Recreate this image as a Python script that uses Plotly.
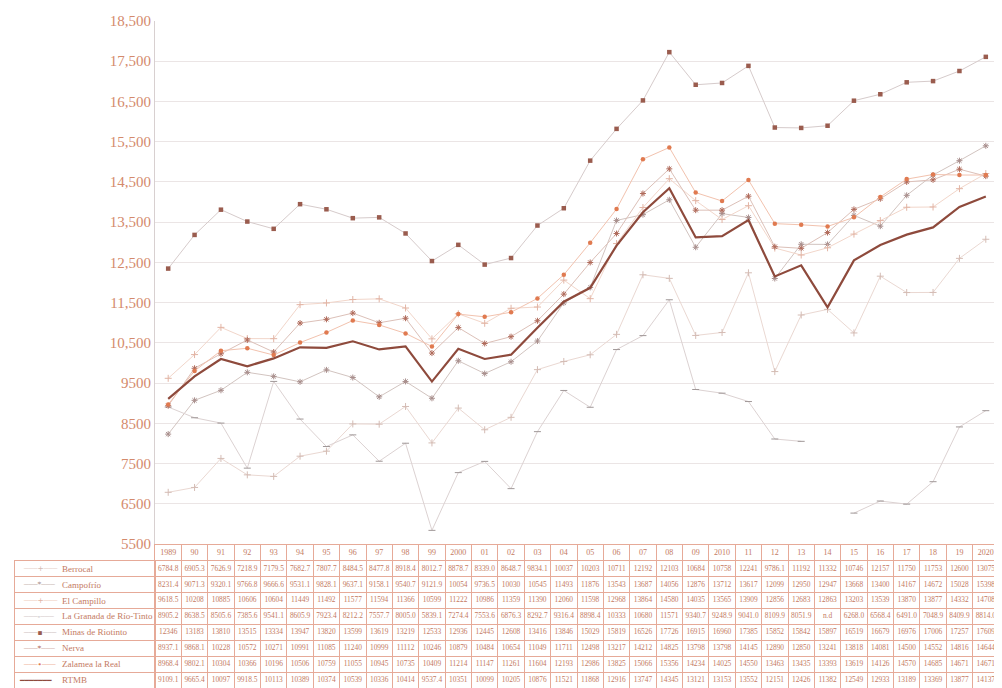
import plotly.graph_objects as go

years = ["1989", "90", "91", "92", "93", "94", "95", "96", "97", "98", "99",
         "2000", "01", "02", "03", "04", "05", "06", "07", "08", "09",
         "2010", "11", "12", "13", "14", "15", "16", "17", "18", "19", "2020"]

berrocal = [6784.8, 6905.3, 7626.9, 7218.9, 7179.5, 7682.7, 7807.7, 8484.5, 8477.8, 8918.4,
            8012.7, 8878.7, 8339.0, 8648.7, 9834.1, 10037, 10203, 10711, 12192, 12103,
            10684, 10758, 12241, 9786.1, 11192, 11332, 10746, 12157, 11750, 11753, 12600, 13075]
campofrio = [8231.4, 9071.3, 9320.1, 9766.8, 9666.6, 9531.1, 9828.1, 9637.1, 9158.1, 9540.7,
             9121.9, 10054, 9736.5, 10030, 10545, 11493, 11876, 13543, 13687, 14056,
             12876, 13712, 13617, 12099, 12950, 12947, 13668, 13400, 14167, 14672, 15028, 15398]
el_campillo = [9618.5, 10208, 10885, 10606, 10604, 11449, 11492, 11577, 11594, 11366,
               10599, 11222, 10986, 11359, 11390, 12060, 11598, 12968, 13864, 14580,
               14035, 13565, 13909, 12856, 12683, 12863, 13203, 13539, 13870, 13877, 14332, 14708]
la_granada = [8905.2, 8638.5, 8505.6, 7385.6, 9541.1, 8605.9, 7923.4, 8212.2, 7557.7, 8005.0,
              5839.1, 7274.4, 7553.6, 6876.3, 8292.7, 9316.4, 8898.4, 10333, 10680, 11571,
              9340.7, 9248.9, 9041.0, 8109.9, 8051.9, None, 6268.0, 6568.4, 6491.0, 7048.9, 8409.9, 8814.0]
minas = [12346, 13183, 13810, 13515, 13334, 13947, 13820, 13599, 13619, 13219,
         12533, 12936, 12445, 12608, 13416, 13846, 15029, 15819, 16526, 17726,
         16915, 16960, 17385, 15852, 15842, 15897, 16519, 16679, 16976, 17006, 17257, 17609]
nerva = [8937.1, 9868.1, 10228, 10572, 10271, 10991, 11085, 11240, 10999, 11112,
         10246, 10879, 10484, 10654, 11049, 11711, 12498, 13217, 14212, 14825,
         13798, 13798, 14145, 12890, 12850, 13241, 13818, 14081, 14500, 14552, 14816, 14644]
zalamea = [8968.4, 9802.1, 10304, 10366, 10196, 10506, 10759, 11055, 10945, 10735,
           10409, 11214, 11147, 11261, 11604, 12193, 12986, 13825, 15066, 15356,
           14234, 14025, 14550, 13463, 13435, 13393, 13619, 14126, 14570, 14685, 14671, 14671]
rtmb = [9109.1, 9665.4, 10097, 9918.5, 10113, 10389, 10374, 10539, 10336, 10414,
        9537.4, 10351, 10099, 10205, 10876, 11521, 11868, 12916, 13747, 14345,
        13121, 13153, 13552, 12151, 12426, 11382, 12549, 12933, 13189, 13369, 13877, 14137]

names = ["Berrocal", "Campofrío", "El Campillo", "La Granada de Río-Tinto",
         "Minas de Riotinto", "Nerva", "Zalamea la Real", "RTMB"]
series = [berrocal, campofrio, el_campillo, la_granada, minas, nerva, zalamea, rtmb]

y_ticks = [5500, 6500, 7500, 8500, 9500, 10500, 11500, 12500, 13500, 14500, 15500, 16500, 17500, 18500]
y_tick_text = ["5500", "6500", "7500", "8500", "9500", "10,500", "11,500", "12,500",
               "13,500", "14,500", "15,500", "16,500", "17,500", "18,500"]

# styles
line_colors = ["#ead8d2", "#d2c4c0", "#f2d6ca", "#dcd2d2", "#d6cbcb", "#dcc0b8", "#f2c2ae", "#8e4a3c"]
marker_colors = ["#d4bcb4", "#a88e8c", "#e2b4a4", "#a09898", "#9a5c4e", "#b06a5a", "#e07a50", "#8e4a3c"]
symbols = ["cross-thin", "asterisk-open", "cross-thin", "line-ew", "square", "asterisk-open", "circle", None]
key_glyph = ["+", "*", "+", "-", "▪", "*", "•", ""]

SERIF = "Liberation Serif"
TXT = "#c47a62"
BORDER = "#e6aa98"
HDR = "hdr"

# page has an 8px body margin: figure coordinates = screen - 8
W, H = 994, 680
TABLE_H = 143
ROW_H = TABLE_H / (len(names) + 1)

fig = go.Figure()

# ---- chart ----
for i, (nm, vals) in enumerate(zip(names, series)):
    if nm == "RTMB":
        fig.add_trace(go.Scatter(x=years, y=vals, name=nm, mode="lines",
                                 line=dict(color=line_colors[i], width=2.2),
                                 showlegend=False))
    else:
        sym = symbols[i]
        thin = sym in ("cross-thin", "asterisk-open", "line-ew")
        mk = dict(symbol=sym, size=5 if thin else 4.5, color=marker_colors[i])
        mk["line"] = dict(color=marker_colors[i], width=1) if thin else dict(width=0)
        fig.add_trace(go.Scatter(x=years, y=vals, name=nm, mode="lines+markers",
                                 line=dict(color=line_colors[i], width=1),
                                 marker=mk, connectgaps=False, showlegend=False))

# ---- data table (text on category grid aligned with the chart's x axis) ----
def fmt(v):
    if v is None:
        return "n.d"
    if v < 10000:
        return f"{v:.1f}"
    return f"{v:.0f}"

fig.add_trace(go.Scatter(x=years, y=[HDR] * len(years), text=years, mode="text",
                         textfont=dict(family=SERIF, size=8, color=TXT),
                         xaxis="x2", yaxis="y2", cliponaxis=False,
                         showlegend=False, hoverinfo="skip"))
for nm, vals in zip(names, series):
    fig.add_trace(go.Scatter(x=years, y=[nm] * len(years), text=[fmt(v) for v in vals],
                             mode="text", textfont=dict(family=SERIF, size=7.4, color=TXT),
                             xaxis="x2", yaxis="y2", cliponaxis=False,
                             showlegend=False, hoverinfo="skip"))

# label column: legend key + name in each row
for i, nm in enumerate(names):
    if nm == "RTMB":
        key = f'<span style="color:{line_colors[i]}">━━━━━━━</span>'
        kx = 2
    else:
        key = (f'<span style="color:{line_colors[i]}">───</span>'
               f'<span style="color:{marker_colors[i]}">{key_glyph[i]}</span>'
               f'<span style="color:{line_colors[i]}">───</span>')
        kx = 6
    fig.add_annotation(x=kx, y=nm, xref="x3", yref="y3", text=key,
                       showarrow=False, xanchor="left", yanchor="middle",
                       font=dict(family="DejaVu Sans", size=7.5))
    fig.add_annotation(x=45, y=nm, xref="x3", yref="y3", text=nm,
                       showarrow=False, xanchor="left", yanchor="middle",
                       font=dict(family=SERIF, size=9, color=TXT))

grid_axis = dict(showticklabels=False, ticks="", zeroline=False, automargin=False,
                 showgrid=True, gridcolor=BORDER, gridwidth=0.8,
                 showline=True, linecolor=BORDER, linewidth=0.8, mirror=True)

fig.update_layout(
    width=W, height=H,
    margin=dict(l=0, r=0, t=0, b=0, autoexpand=False),
    paper_bgcolor="white", plot_bgcolor="white",
    font=dict(family=SERIF, color=TXT),
    xaxis=dict(domain=[147 / W, 991 / W], type="category",
               categoryorder="array", categoryarray=years,
               range=[-0.5, len(years) - 0.5], automargin=False,
               showticklabels=False, showgrid=False, zeroline=False,
               showline=False, ticks=""),
    yaxis=dict(domain=[1 - 536 / H, 1 - 13 / H], range=[5500, 18500],
               tickvals=y_ticks, ticktext=y_tick_text, automargin=False,
               tickfont=dict(family=SERIF, size=15, color="#d48a6c"),
               showgrid=True, gridcolor="#ebe5e5", gridwidth=1,
               zeroline=False, showline=True, linecolor="#d8d0d0", linewidth=1,
               mirror=True, ticks="", ticklen=0),
    xaxis2=dict(domain=[147 / W, 991 / W], anchor="y2", type="category",
                categoryorder="array", categoryarray=years,
                range=[-0.5, len(years) - 0.5], tickson="boundaries", **grid_axis),
    yaxis2=dict(domain=[0, TABLE_H / H], anchor="x2", type="category",
                categoryorder="array", categoryarray=[HDR] + names,
                range=[len(names) + 0.5, -0.5], tickson="boundaries", **grid_axis),
    xaxis3=dict(domain=[7 / W, 147 / W], anchor="y3", range=[0, 140], **grid_axis),
    yaxis3=dict(domain=[0, (TABLE_H - ROW_H) / H], anchor="x3", type="category",
                categoryorder="array", categoryarray=names,
                range=[len(names) - 0.5, -0.5], tickson="boundaries", **grid_axis),
    showlegend=False,
)
fig.update_xaxes(selector=dict(anchor="y3"), showgrid=False)

fig.write_html("out.html")
